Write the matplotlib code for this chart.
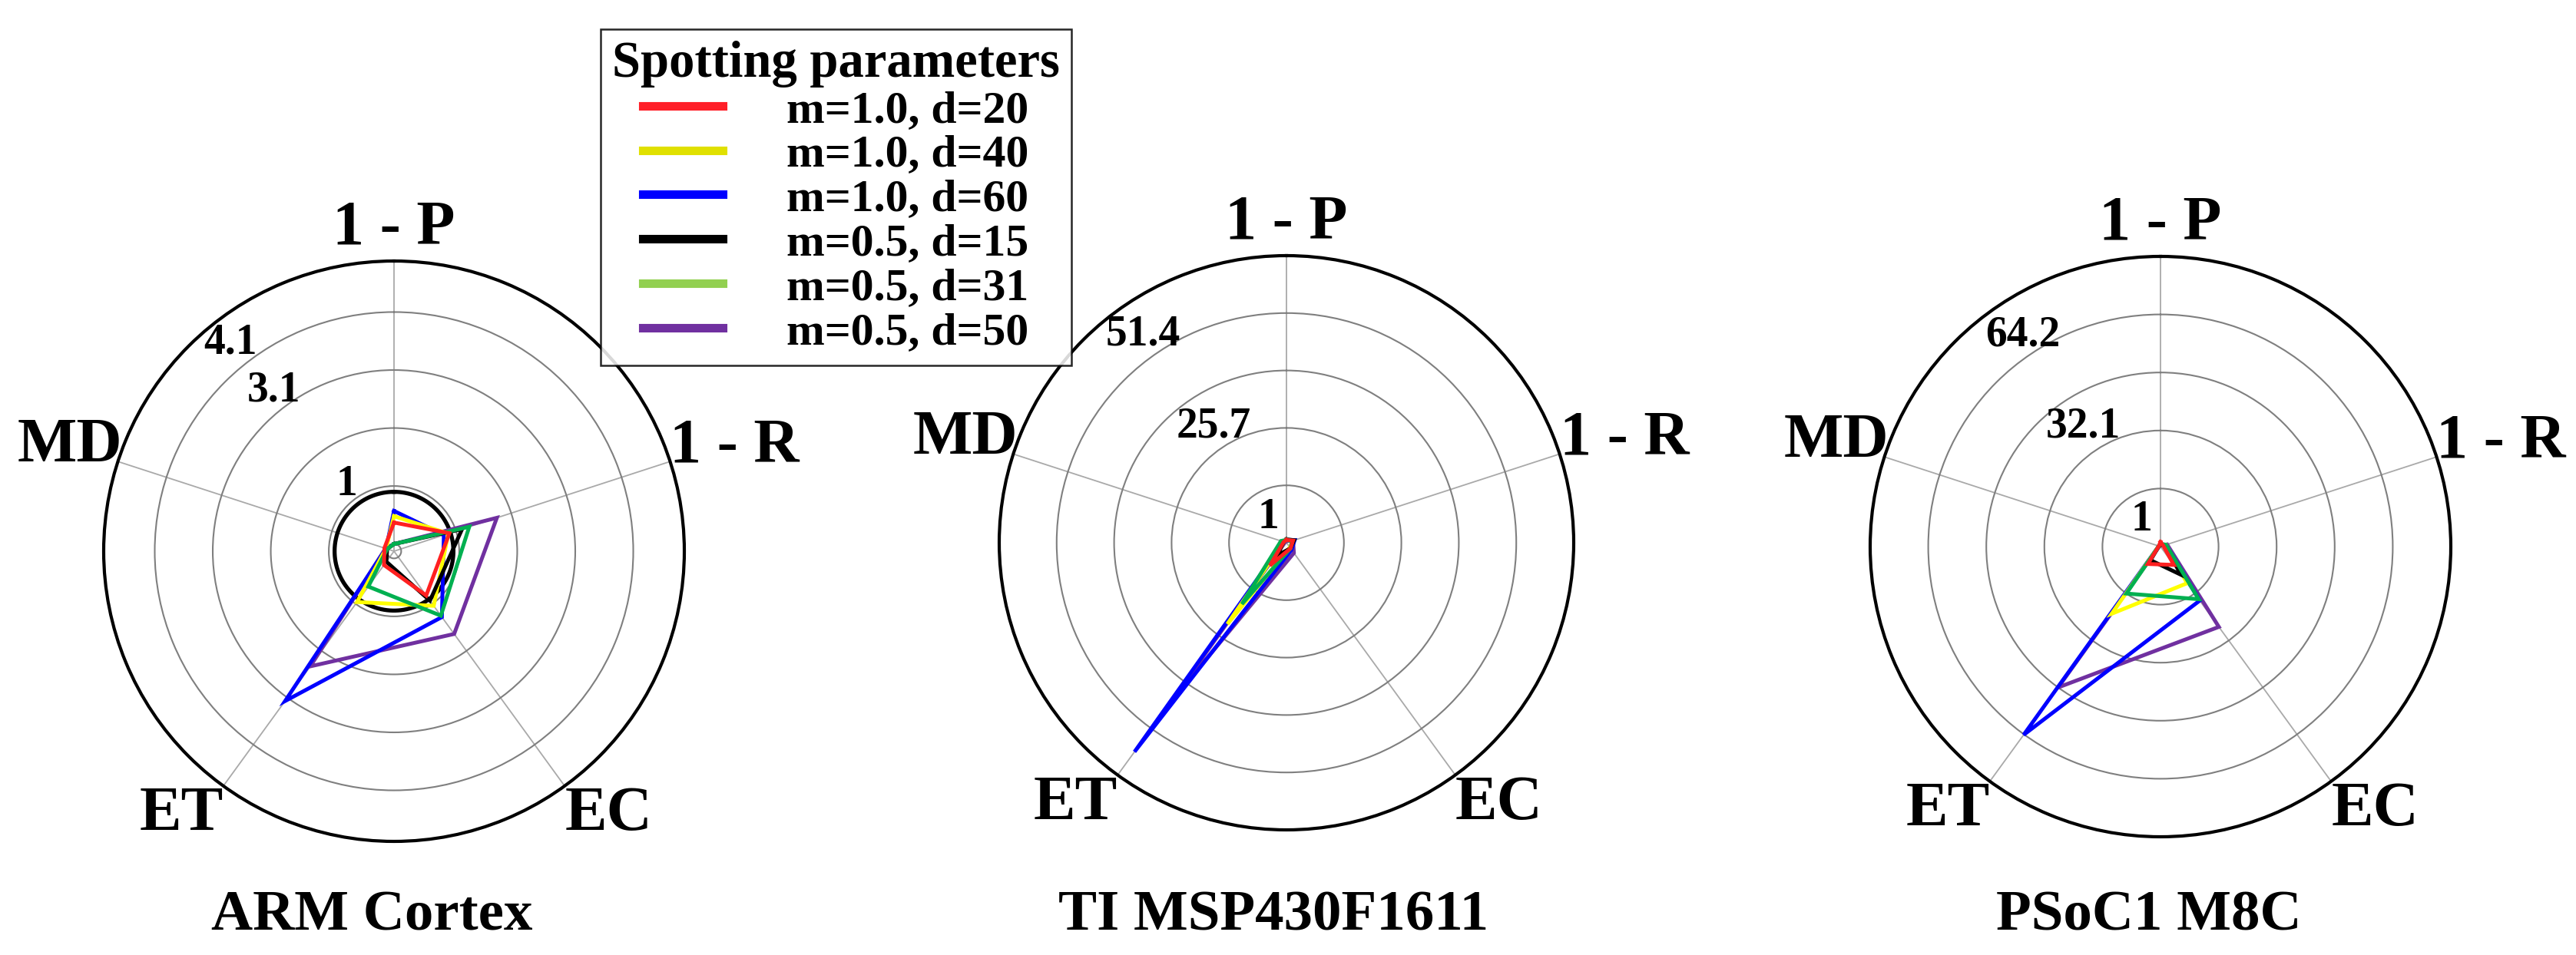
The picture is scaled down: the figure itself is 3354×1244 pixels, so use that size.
import numpy as np
import matplotlib
matplotlib.use('Agg')
import matplotlib.pyplot as plt
from matplotlib.lines import Line2D

plt.rcParams['font.family'] = ['Liberation Serif', 'DejaVu Serif']
plt.rcParams['font.weight'] = 'bold'

# radar axes (clockwise from the top)
axis_names = ['1 - P', '1 - R', 'EC', 'ET', 'MD']
chips = ['ARM Cortex', 'TI MSP430F1611', 'PSoC1 M8C']
series_names = ['m=1.0, d=20', 'm=1.0, d=40', 'm=1.0, d=60',
                'm=0.5, d=15', 'm=0.5, d=31', 'm=0.5, d=50']

# values in ring units, order 1-P, 1-R, EC, ET, MD ; rows follow series_names
arm_values = [
    [0.37, 0.88, 0.82, 0.17, 0.05],
    [0.48, 0.86, 1.04, 0.96, 0.02],
    [0.57, 0.78, 1.28, 3.07, 0.02],
    [0.00, 1.11, 0.93, 0.10, 0.00],
    [0.00, 1.24, 1.25, 0.63, 0.00],
    [0.00, 1.74, 1.64, 2.33, 0.03],
]
ti_values = [
    [0.05, 0.12, 0.12, 0.49, 0.05],
    [0.05, 0.12, 0.10, 1.75, 0.05],
    [0.05, 0.15, 0.15, 4.50, 0.05],
    [0.06, 0.14, 0.12, 0.27, 0.05],
    [0.05, 0.10, 0.12, 1.32, 0.10],
    [0.03, 0.12, 0.22, 3.45, 0.03],
]
psoc_values = [
    [0.08, 0.05, 0.39, 0.37, 0.03],
    [0.03, 0.10, 0.78, 1.43, 0.03],
    [0.03, 0.10, 1.15, 4.01, 0.03],
    [0.03, 0.08, 0.60, 0.29, 0.03],
    [0.05, 0.10, 1.12, 1.00, 0.03],
    [0.02, 0.12, 1.71, 3.00, 0.02],
]
all_values = [arm_values, ti_values, psoc_values]

# radial labels written on each radar
ring_labels = [['1', '3.1', '4.1'], ['1', '25.7', '51.4'], ['1', '32.1', '64.2']]
# reference circle (ARM Cortex only)
arm_ref = 0.9

line_colors = ['#ff2020', '#ffff00', '#0000ff', '#000000', '#00b050', '#7030a0']
legend_colors = ['#ff1f28', '#e0e000', '#0000ff', '#000000', '#92d050', '#7030a0']
draw_order = [5, 2, 1, 3, 4, 0]

# layout in pixels
W, H = 3355, 1244
centers = [(513, 718), (1675, 707), (2813, 712)]
title_x = [484, 1658, 2798]
radii = [378, 374, 378]
rlims = [(-0.124, 4.88), (0, 5), (0, 5)]
rings = [[0, 1, 2, 3, 4], [1, 2, 3, 4], [1, 2, 3, 4]]
label_pos = [[(-35.4, 0.281), (-36.8, 0.691), (-38.1, 0.914)],
             [(-35.0, 0.109), (-32.0, 0.479), (-34.5, 0.881)],
             [(-35.5, 0.114), (-32.8, 0.493), (-33.1, 0.869)]]

fig = plt.figure(figsize=(W / 100, H / 100), dpi=100)

angles = np.arange(len(axis_names)) * 360.0 / len(axis_names)
theta = np.deg2rad(np.append(angles, angles[0]))
circle_t = np.linspace(0, 2 * np.pi, 400)

for i in range(3):
    cx, cy = centers[i]
    R = radii[i]
    rmin, rmax = rlims[i]
    ax = fig.add_axes([(cx - R) / W, (H - cy - R) / H, 2 * R / W, 2 * R / H],
                      projection='polar')
    ax.set_theta_zero_location('N')
    ax.set_theta_direction(-1)
    ax.set_ylim(rmin, rmax)
    ax.set_thetagrids(angles, labels=[''] * len(angles))
    ax.set_rgrids(rings[i], labels=[''] * len(rings[i]))
    ax.xaxis.grid(True, color='#a9a9a9', linewidth=1.3)
    ax.yaxis.grid(True, color='#7f7f7f', linewidth=1.5)
    ax.tick_params(length=0, pad=0)
    ax.spines['polar'].set_linewidth(3.0)
    ax.spines['polar'].set_color('black')

    if i == 0:
        ax.plot(circle_t, np.full_like(circle_t, arm_ref), color='black', lw=3.8, zorder=2)

    vals = all_values[i]
    for k in draw_order:
        v = vals[k]
        ax.plot(theta, v + v[:1], color=line_colors[k], lw=3.6,
                solid_joinstyle='miter', zorder=3)

    # ring value labels
    for txt, (ang, frac) in zip(ring_labels[i], label_pos[i]):
        ax.text(np.deg2rad(ang), rmin + frac * (rmax - rmin), txt, fontsize=40,
                fontweight='bold', ha='center', va='center', zorder=4)

    # axis names at the spoke ends
    styles = [('center', 'baseline', (0, 16)), ('left', 'baseline', (0, 0)),
              ('left', 'top', (0, 0)), ('right', 'top', (0, 0)),
              ('right', 'baseline', (4, 0))]
    for name, ang, (ha, va, off) in zip(axis_names, angles, styles):
        ax.annotate(name, xy=(np.deg2rad(ang), rmax), xytext=off,
                    textcoords='offset points', ha=ha, va=va, fontsize=59,
                    fontweight='bold', annotation_clip=False)

    fig.text(title_x[i] / W, 33 / H, chips[i], ha='center', va='baseline',
             fontsize=54, fontweight='bold')

handles = [Line2D([0], [0], color=c, lw=8) for c in legend_colors]
leg = fig.legend(handles, series_names, title='Spotting parameters',
                 loc='upper left', bbox_to_anchor=(782 / W, 1 - 38 / H),
                 frameon=True, fancybox=False, edgecolor='black', framealpha=0.85,
                 prop={'size': 43, 'weight': 'bold'},
                 title_fontproperties={'size': 48, 'weight': 'bold'},
                 handlelength=1.74, handletextpad=1.4, labelspacing=0.05,
                 borderpad=0.25, borderaxespad=0)
leg.get_frame().set_linewidth(1.8)

fig.savefig('out.png', dpi=100)
